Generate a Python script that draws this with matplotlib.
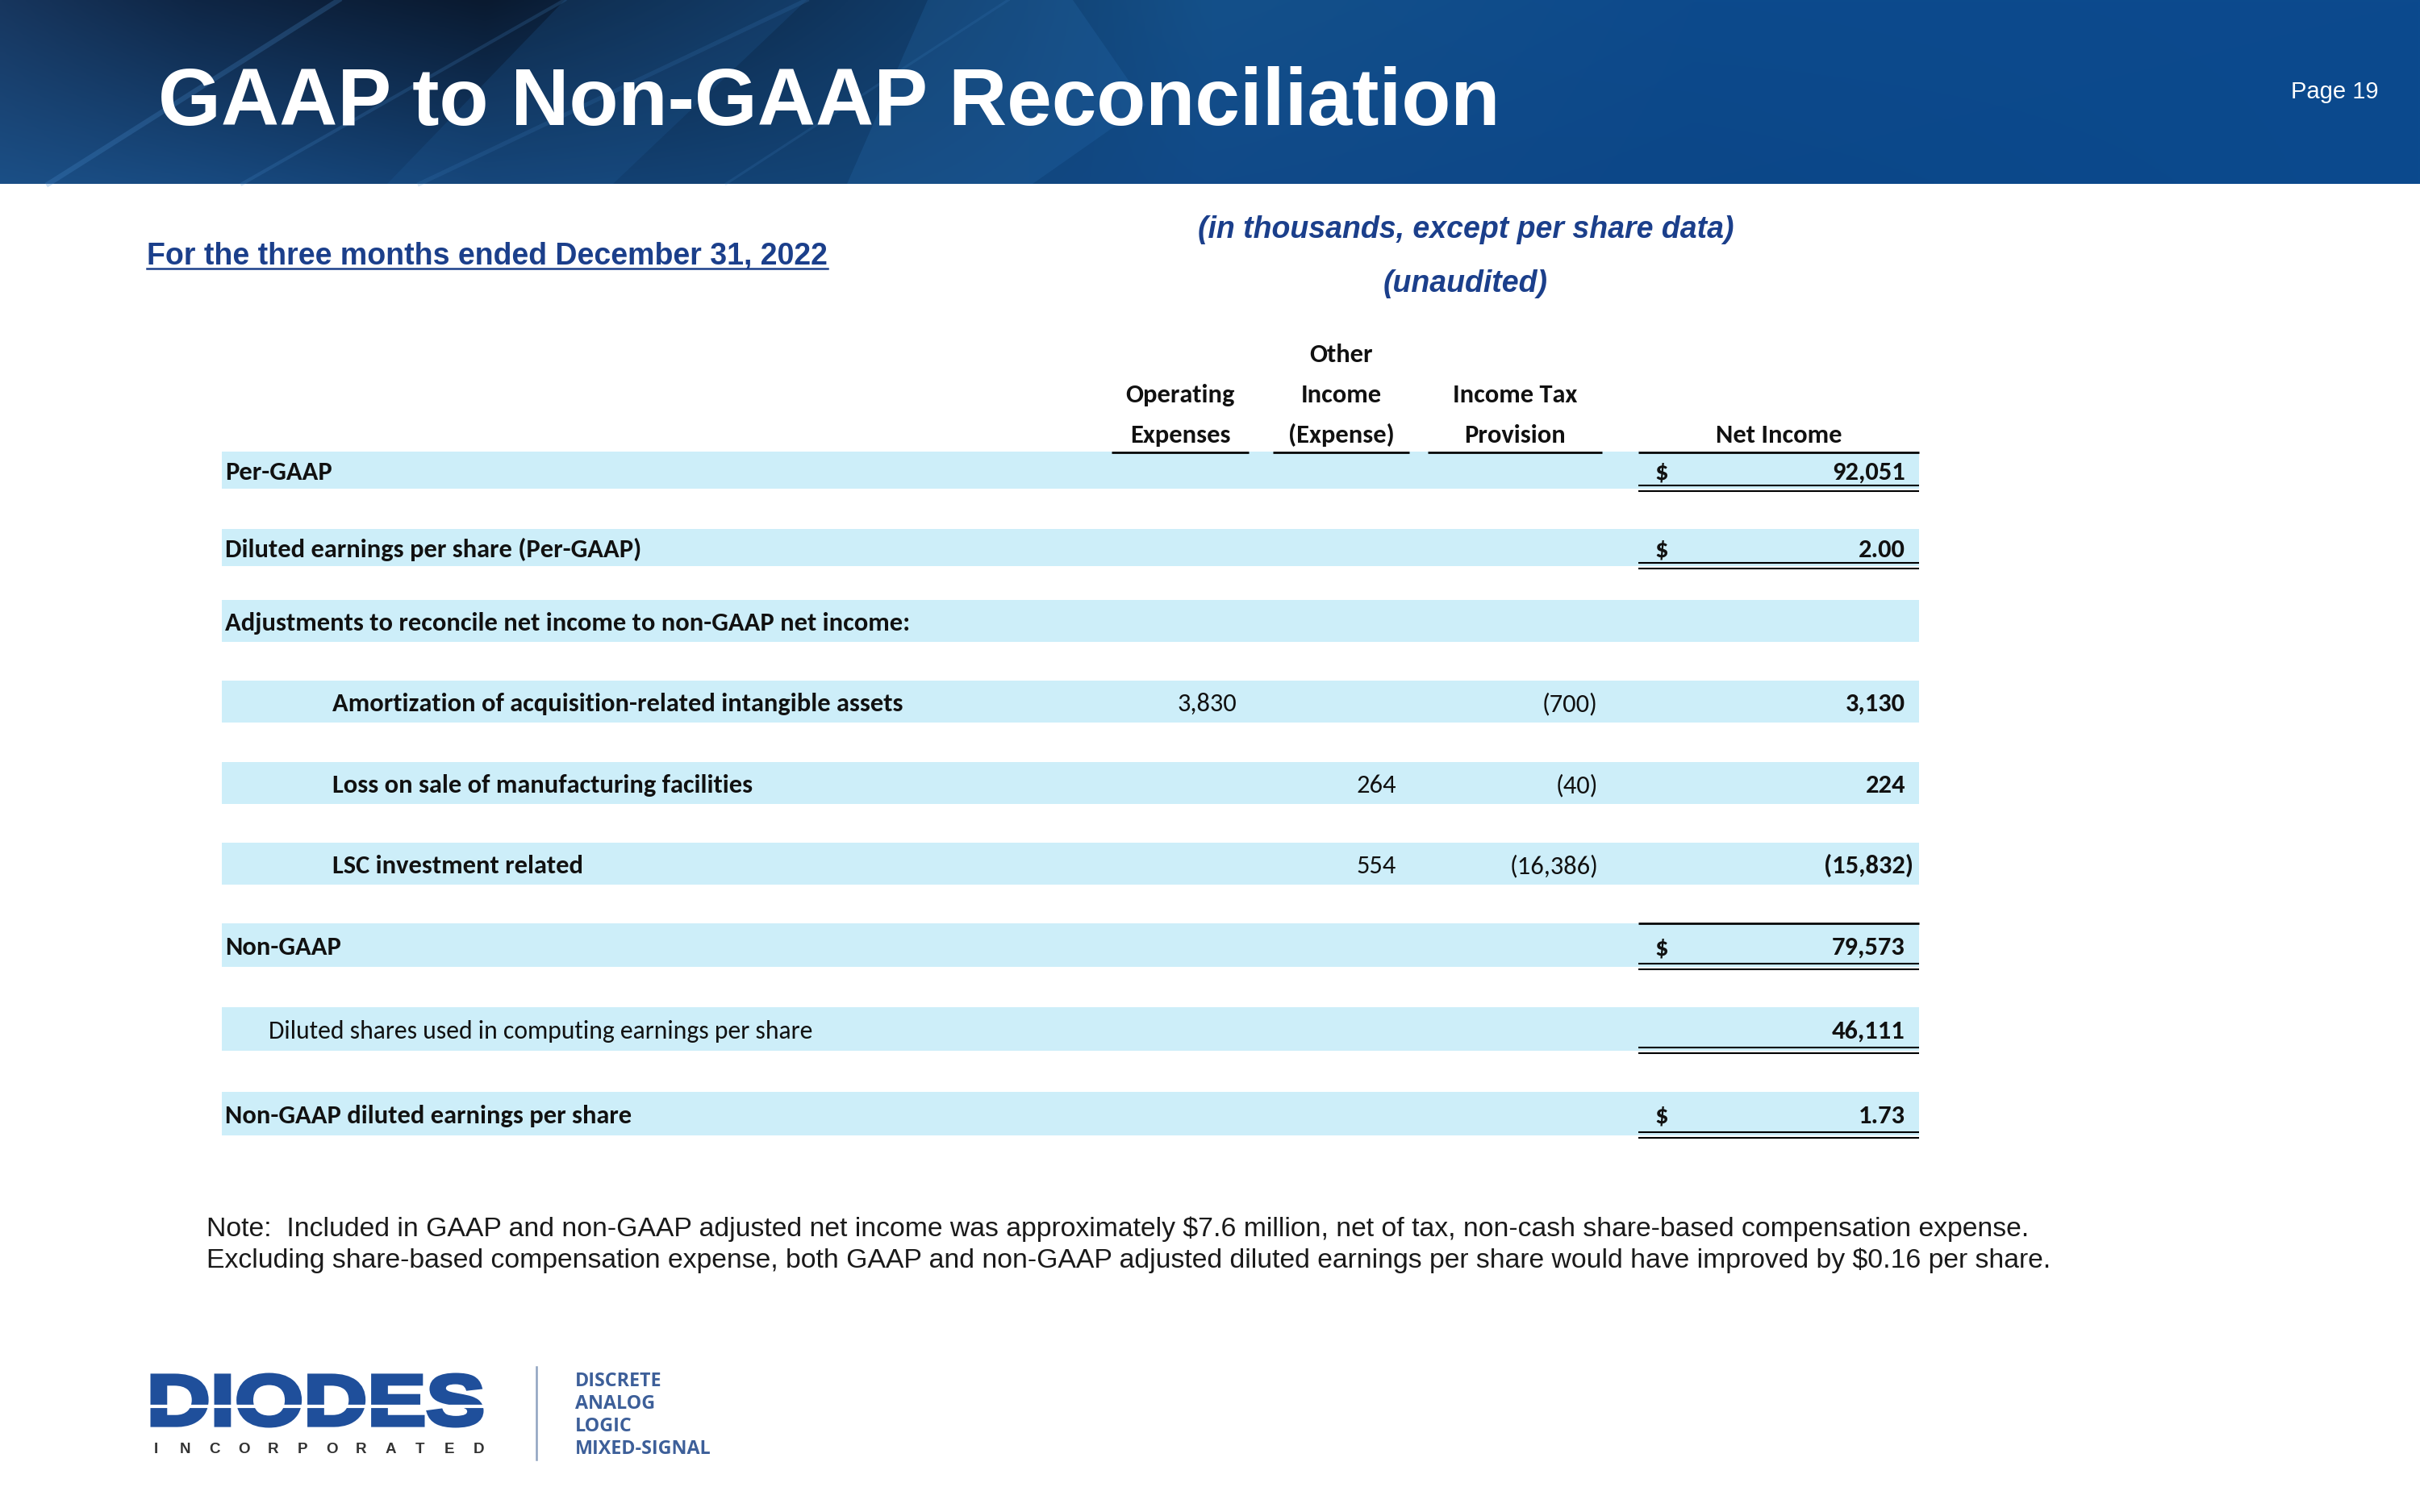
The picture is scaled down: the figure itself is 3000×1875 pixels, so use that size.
import matplotlib
matplotlib.use("Agg")
import matplotlib.pyplot as plt
import numpy as np
from matplotlib import font_manager
from matplotlib.font_manager import FontProperties
from matplotlib.textpath import TextPath
from matplotlib.patches import PathPatch, Polygon, Rectangle
from matplotlib.transforms import Affine2D

# ---- table data ----
row_labels = [
    "Per-GAAP",
    "Diluted earnings per share (Per-GAAP)",
    "Adjustments to reconcile net income to non-GAAP net income:",
    "Amortization of acquisition-related intangible assets",
    "Loss on sale of manufacturing facilities",
    "LSC investment related",
    "Non-GAAP",
    "Diluted shares used in computing earnings per share",
    "Non-GAAP diluted earnings per share",
]
operating_expenses = [None, None, None, 3830, None, None, None, None, None]
other_income = [None, None, None, None, 264, 554, None, None, None]
income_tax = [None, None, None, -700, -40, -16386, None, None, None]
net_income = [92051, 2.00, None, 3130, 224, -15832, 79573, 46111, 1.73]
decimals = [0, 2, 0, 0, 0, 0, 0, 0, 2]
dollar_rows = [0, 1, 6, 8]
double_rows = [0, 1, 6, 7, 8]
indent_level = [0, 0, 0, 2, 2, 2, 0, 1, 0]
bold_label = [True, True, True, True, True, True, True, False, True]
col_headers = [["Operating", "Expenses"], ["Other", "Income", "(Expense)"],
               ["Income Tax", "Provision"], ["Net Income"]]

title = "GAAP to Non-GAAP Reconciliation"
period = "For the three months ended December 31, 2022"
units = ["(in thousands, except per share data)", "(unaudited)"]
note_lines = [
    "Note:  Included in GAAP and non-GAAP adjusted net income was approximately $7.6 million, net of tax, non-cash share-based compensation expense.",
    "Excluding share-based compensation expense, both GAAP and non-GAAP adjusted diluted earnings per share would have improved by $0.16 per share.",
]
tag_lines = ["DISCRETE", "ANALOG", "LOGIC", "MIXED-SIGNAL"]

installed = {f.name for f in font_manager.fontManager.ttflist}


def pick(*names):
    for n in names:
        if n in installed:
            return n
    return "DejaVu Sans"


NARROW = pick("Liberation Sans Narrow", "Carlito", "Liberation Sans")
FS = {"Liberation Sans Narrow": 8.3, "Carlito": 7.8}.get(NARROW, 6.8)
ARIAL = pick("Liberation Sans", "Arial", "DejaVu Sans")
OPEN = pick("Open Sans", "Noto Sans", "DejaVu Sans")

BLUE_TXT = "#1b3f8b"
BAND = "#cdeef9"
LOGO_BLUE = "#1f4f9b"
TXT = "#111111"

fig = plt.figure(figsize=(10, 6.25), dpi=300)
ax = fig.add_axes([0, 0, 1, 1])

# ---- header band ----
xs = np.linspace(0, 1, 600)
stops = [0, 0.08, 0.2, 0.35, 0.5, 0.7, 1.0]
top_c = ["#17365e", "#0f2645", "#0a1a30", "#10365f", "#145089", "#0d4a8c", "#0c4a8e"]
bot_c = ["#1b4f86", "#184a80", "#133f70", "#134476", "#114a89", "#0c4788", "#0b4a8e"]
top_rgb = np.array([matplotlib.colors.to_rgb(c) for c in top_c])
bot_rgb = np.array([matplotlib.colors.to_rgb(c) for c in bot_c])
top_row = np.stack([np.interp(xs, stops, top_rgb[:, k]) for k in range(3)], axis=-1)
bot_row = np.stack([np.interp(xs, stops, bot_rgb[:, k]) for k in range(3)], axis=-1)
t = np.linspace(0, 1, 60)[:, None, None]
img = top_row[None] * (1 - t) + bot_row[None] * t
ax.imshow(img, extent=[0, 3000, 228, 0], aspect="auto", zorder=0, interpolation="bilinear")
# light diagonal streaks
for (xa, xb, w, a) in [(60, 420, 6, 0.25), (300, 700, 4, 0.2), (520, 1000, 5, 0.18), (900, 1250, 3, 0.15)]:
    ax.plot([xa, xb], [228, 0], color="#4b8fd0", lw=w * 0.25, alpha=a, zorder=1)
ax.add_patch(Polygon([[1150, 0], [1330, 0], [1420, 130], [1280, 228], [1050, 228]],
                     closed=True, fc="#2b74b8", alpha=0.22, ec="none", zorder=1))
ax.add_patch(Polygon([[700, 0], [1000, 0], [760, 228], [480, 228]],
                     closed=True, fc="#1f5c99", alpha=0.25, ec="none", zorder=1))
ax.set_xlim(0, 3000)
ax.set_ylim(1875, 0)
ax.axis("off")

ax.text(196, 155, title, color="white", fontsize=24, fontweight="bold",
        family=ARIAL, va="baseline", ha="left", zorder=3)
ax.text(2948, 122, "Page 19", color="white", fontsize=7, family=ARIAL,
        va="baseline", ha="right", zorder=3)

# ---- period and units ----
ptxt = ax.text(182, 328, period, color=BLUE_TXT, fontsize=9, fontweight="bold",
               family=ARIAL, va="baseline", ha="left")
ax.text(1817, 295, units[0], color=BLUE_TXT, fontsize=9, fontweight="bold",
        style="italic", family=ARIAL, va="baseline", ha="center")
ax.text(1817, 362, units[1], color=BLUE_TXT, fontsize=9, fontweight="bold",
        style="italic", family=ARIAL, va="baseline", ha="center")
fig.canvas.draw()
bb = ptxt.get_window_extent().transformed(ax.transData.inverted())
ax.plot([bb.x0, bb.x1], [333, 333], color=BLUE_TXT, lw=0.6)

# ---- table layout ----
row_top = [560, 656, 744, 844, 945, 1045, 1145, 1249, 1354]
row_bot = [606, 702, 796, 896, 997, 1097, 1199, 1303, 1408]
tbl_x0, tbl_x1 = 275, 2379
label_x = [279, 333, 412]
col_spans = [(1378, 1548), (1578, 1747), (1770, 1986), (2031, 2379)]
col_right = [1533, 1731, 1971, 2362]
dollar_x = 2051

for top, bot in zip(row_top, row_bot):
    ax.add_patch(Rectangle((tbl_x0, top), tbl_x1 - tbl_x0, bot - top, fc=BAND, ec="none", zorder=1))

# column headers
for (x0, x1), lines in zip(col_spans, col_headers):
    xc = (x0 + x1) / 2
    for i, line in enumerate(lines):
        y = 549 - 50 * (len(lines) - 1 - i)
        ax.text(xc, y, line, fontsize=FS, fontweight="bold", family=NARROW,
                color=TXT, ha="center", va="baseline", zorder=3)
    ax.plot([x0, x1], [561, 561], color="black", lw=0.65, zorder=4, solid_capstyle="butt")


def fmt(v, d):
    s = f"{abs(v):,.{d}f}"
    return f"({s})" if v < 0 else s


columns = [operating_expenses, other_income, income_tax, net_income]
for r, label in enumerate(row_labels):
    yc = (row_top[r] + row_bot[r]) / 2
    yb = yc + 12
    ax.text(label_x[indent_level[r]], yb, label,
            fontsize=FS if bold_label[r] else FS * 0.975,
            fontweight="bold" if bold_label[r] else "normal",
            family=NARROW, color=TXT, ha="left", va="baseline", zorder=3)
    for c, col in enumerate(columns):
        v = col[r]
        if v is None:
            continue
        x = col_right[c] + (10 if v < 0 else 0)
        ax.text(x, yb, fmt(v, decimals[r]), fontsize=FS,
                fontweight="bold" if c == 3 else "normal",
                family=NARROW, color=TXT, ha="right", va="baseline", zorder=3)
    if r in dollar_rows:
        ax.text(dollar_x, yb, "$", fontsize=FS, fontweight="bold", family=NARROW,
                color=TXT, ha="left", va="baseline", zorder=3)
    nx0, nx1 = col_spans[3]
    if r in double_rows:
        for dy in (-4, 2.5):
            ax.plot([nx0, nx1], [row_bot[r] + dy, row_bot[r] + dy], color="black",
                    lw=0.5, zorder=4, solid_capstyle="butt")
    if r == 6:
        ax.plot([nx0, nx1], [row_top[r], row_top[r]], color="black", lw=0.65,
                zorder=4, solid_capstyle="butt")

# ---- note ----
for i, line in enumerate(note_lines):
    ax.text(256, 1533 + 39 * i, line, fontsize=8.1, family=ARIAL, color="#1a1a1a",
            ha="left", va="baseline")

# ---- logo ----
tp = TextPath((0, 0), "DIODES", size=100, prop=FontProperties(family=ARIAL, weight="bold"))
ext = tp.get_extents()
lx0, lx1, ly0, ly1 = 189, 597, 1705, 1768
tr = (Affine2D().translate(-ext.x0, -ext.y0)
      .scale((lx1 - lx0) / ext.width, -(ly1 - ly0) / ext.height)
      .translate(lx0, ly1))
ax.add_patch(PathPatch(tr.transform_path(tp), fc=LOGO_BLUE, ec=LOGO_BLUE, lw=1.2, zorder=3))
ax.plot([185, 601], [1744, 1744], color="white", lw=1.0, zorder=4)
inc = "INCORPORATED"
for i, ch in enumerate(inc):
    ax.text(lx0 + 4 + i * (lx1 - lx0 - 8) / (len(inc) - 1), 1798, ch, fontsize=4.5,
            fontweight="bold", family=ARIAL, color="#333333", ha="center", va="center")
ax.plot([665, 665], [1695, 1810], color="#8fa3c0", lw=0.6)
for i, line in enumerate(tag_lines):
    ax.text(713, 1713 + 28 * i, line, fontsize=5.6, fontweight="bold", family=OPEN,
            color="#3d5f99", ha="left", va="center")

fig.savefig("out.png", dpi=300)
